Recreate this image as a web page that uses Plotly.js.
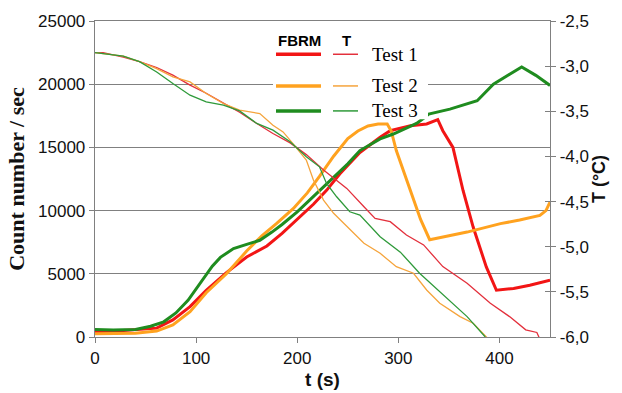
<!DOCTYPE html>
<html><head><meta charset="utf-8">
<script src="https://cdn.plot.ly/plotly-3.0.1.min.js"></script>
<style>html,body{margin:0;padding:0;background:#fff}#chart{width:622px;height:393px}</style>
</head><body><div id="chart"></div>
<script>
// ---- DATA ----
// FBRM count number / sec (left axis)
const tF1 = [0,18,35,50,61,77,94,110,130,150,170,185,200,216,229,242,262,282,292,312,328,339,344,354,364,374,387,397,414,430,450];
const fbrm1 = [420,450,550,620,700,1350,2400,3700,5100,6330,7200,8200,9300,10500,11600,12900,14600,15800,16320,16720,16850,17190,16320,15000,11590,8700,5540,3700,3840,4100,4500];
const tF2 = [0,20,40,61,77,94,110,130,150,165,180,196,210,222,236,250,260,270,280,289,293,298,312,322,331,350,368,401,420,440,446,450];
const fbrm2 = [250,250,300,470,950,2000,3500,5000,6800,8000,9000,10150,11400,12700,14300,15700,16300,16700,16850,16850,16300,14750,11590,9300,7700,8000,8300,8970,9250,9620,10000,10670];
const tF3 = [0,18,40,55,68,80,92,104,116,124,137,150,163,175,185,200,212,222,236,250,262,282,295,302,318,325,330,351,378,394,407,422,436,450];
const fbrm3 = [600,550,600,850,1200,1900,2900,4300,5600,6300,7000,7330,7650,8300,8900,9900,10800,11600,12640,13700,14750,15670,16060,16320,16900,17300,17640,18030,18690,20000,20660,21370,20700,19900];
// Temperature (right axis)
const tT1 = [0,8,28,44,61,77,94,110,127,143,160,176,193,209,226,249,266,277,292,308,325,344,368,391,410,426,437,441];
const temp1 = [-2.85,-2.85,-2.90,-2.95,-3.015,-3.10,-3.21,-3.30,-3.41,-3.51,-3.635,-3.746,-3.85,-3.98,-4.15,-4.354,-4.557,-4.686,-4.723,-4.871,-4.98,-5.22,-5.405,-5.626,-5.774,-5.921,-5.95,-6.05];
const tT2 = [0,28,44,61,77,94,110,127,143,153,163,176,186,196,209,216,226,236,249,266,282,298,315,328,341,361,374,384,388];
const temp2 = [-2.85,-2.89,-2.95,-3.027,-3.119,-3.175,-3.303,-3.414,-3.488,-3.507,-3.525,-3.654,-3.728,-3.86,-4.04,-4.262,-4.483,-4.63,-4.779,-4.962,-5.073,-5.221,-5.294,-5.479,-5.626,-5.774,-5.848,-5.958,-6.01];
const tT3 = [0,28,44,61,77,94,110,127,143,160,176,193,209,222,229,239,252,262,282,302,321,341,351,368,386];
const temp3 = [-2.85,-2.89,-2.95,-3.064,-3.193,-3.322,-3.396,-3.432,-3.496,-3.635,-3.709,-3.838,-4.004,-4.115,-4.299,-4.447,-4.613,-4.65,-4.89,-5.06,-5.294,-5.498,-5.59,-5.774,-6.0];
// Ticks / labels
const xTicks = [0,100,200,300,400];
const countTicks = [0,5000,10000,15000,20000,25000];
const countTickText = ['0','5000','10000','15000','20000','25000'];
const tempTicks = [-6,-5.5,-5,-4.5,-4,-3.5,-3,-2.5];
const tempTickText = ['-6,0','-5,5','-5,0','-4,5','-4,0','-3,5','-3,0','-2,5'];
const seriesNames = ['Test 1','Test 2','Test 3'];
const legendHeaders = ['FBRM','T'];

// ---- STYLE ----
const thickCol = ['#f21515','#ffa21f','#1f8c1f'];
const thinCol = ['#e3303c','#f5a43c','#2f9a3a'];
const PL = 95, PR = 550, PT = 20.7, PB = 337;
const px = v => (v - PL) / (PR - PL);
const py = v => (PB - v) / (PB - PT);

const traces = [];
const tT = [tT1,tT2,tT3], temps = [temp1,temp2,temp3];
const tF = [tF1,tF2,tF3], fbrms = [fbrm1,fbrm2,fbrm3];
for (let i = 0; i < 3; i++) {
  traces.push({x: tT[i], y: temps[i], yaxis: 'y2', mode: 'lines', name: seriesNames[i] + ' T',
    line: {color: thinCol[i], width: 1.3}, showlegend: false, hoverinfo: 'skip'});
}
for (let i = 0; i < 3; i++) {
  traces.push({x: tF[i], y: fbrms[i], mode: 'lines', name: seriesNames[i] + ' FBRM',
    line: {color: thickCol[i], width: 3}, showlegend: false, hoverinfo: 'skip'});
}
traces.push({x: [null], y: [null], yaxis: 'y3', mode: 'lines', showlegend: false, hoverinfo: 'skip'});

const sansB = 'Arial, "Liberation Sans", sans-serif';
const serif = '"Times New Roman", "Liberation Serif", serif';

// Manual legend
const shapes = [{type: 'rect', xref: 'paper', yref: 'paper', layer: 'above',
  x0: px(273), x1: px(428), y0: py(119), y1: py(28), fillcolor: '#ffffff', line: {width: 0}}];
const annotations = [
  {xref: 'paper', yref: 'paper', x: px(299), y: py(40), text: '<b>' + legendHeaders[0] + '</b>', showarrow: false,
   font: {family: sansB, size: 15, color: '#000'}, xanchor: 'center', yanchor: 'middle'},
  {xref: 'paper', yref: 'paper', x: px(346), y: py(40), text: '<b>' + legendHeaders[1] + '</b>', showarrow: false,
   font: {family: sansB, size: 15, color: '#000'}, xanchor: 'center', yanchor: 'middle'}
];
const rowY = [54, 85.7, 110.7];
for (let i = 0; i < 3; i++) {
  shapes.push({type: 'line', xref: 'paper', yref: 'paper', layer: 'above', x0: px(276), x1: px(321),
    y0: py(rowY[i]), y1: py(rowY[i]), line: {color: thickCol[i], width: 3.5}});
  shapes.push({type: 'line', xref: 'paper', yref: 'paper', layer: 'above', x0: px(333), x1: px(358),
    y0: py(rowY[i]), y1: py(rowY[i]), line: {color: thinCol[i], width: 1.5}});
  annotations.push({xref: 'paper', yref: 'paper', x: px(370), y: py(rowY[i]), text: seriesNames[i], showarrow: false,
    font: {family: serif, size: 19, color: '#000'}, xanchor: 'left', yanchor: 'middle'});
}

const layout = {
  width: 622, height: 393,
  margin: {l: PL, r: 622 - PR, t: PT, b: 393 - PB},
  paper_bgcolor: '#fff', plot_bgcolor: '#fff',
  showlegend: false,
  xaxis: {range: [0, 450], tickvals: xTicks, ticks: 'outside', ticklen: 5, tickcolor: '#808080',
    showline: true, linecolor: '#808080', linewidth: 1.3, mirror: true, showgrid: false, zeroline: false,
    tickfont: {family: sansB, size: 17, color: '#111'},
    title: {text: '<b>t (s)</b>', font: {family: sansB, size: 19, color: '#111'}, standoff: 6}},
  yaxis: {range: [0, 25000], tickvals: countTicks, ticktext: countTickText, ticks: 'outside', ticklen: 5,
    tickcolor: '#808080', showline: true, linecolor: '#808080', linewidth: 1.3,
    showgrid: true, gridcolor: '#808080', gridwidth: 1.3, zeroline: false,
    tickfont: {family: sansB, size: 17, color: '#111'},
    title: {text: '<b>Count number / sec</b>', font: {family: serif, size: 22, color: '#111'}, standoff: 7}},
  yaxis2: {range: [-6, -2.5], overlaying: 'y', side: 'right', anchor: 'x', tickvals: tempTicks, ticktext: tempTickText,
    ticks: 'outside', ticklen: 5, tickcolor: '#808080', showline: true, linecolor: '#808080', linewidth: 1.3,
    showgrid: false, zeroline: false, tickfont: {family: sansB, size: 17, color: '#111'},
    title: {text: '<b>T (°C)</b>', font: {family: sansB, size: 18, color: '#111'}, standoff: 4}},
  yaxis3: {range: [-6, -2.5], overlaying: 'y', side: 'right', anchor: 'x', tickvals: tempTicks,
    ticks: 'inside', ticklen: 5, tickcolor: '#808080', showticklabels: false, showline: false,
    showgrid: false, zeroline: false},
  shapes: shapes,
  annotations: annotations
};
Plotly.newPlot('chart', traces, layout, {displayModeBar: false, staticPlot: true});
</script></body></html>
